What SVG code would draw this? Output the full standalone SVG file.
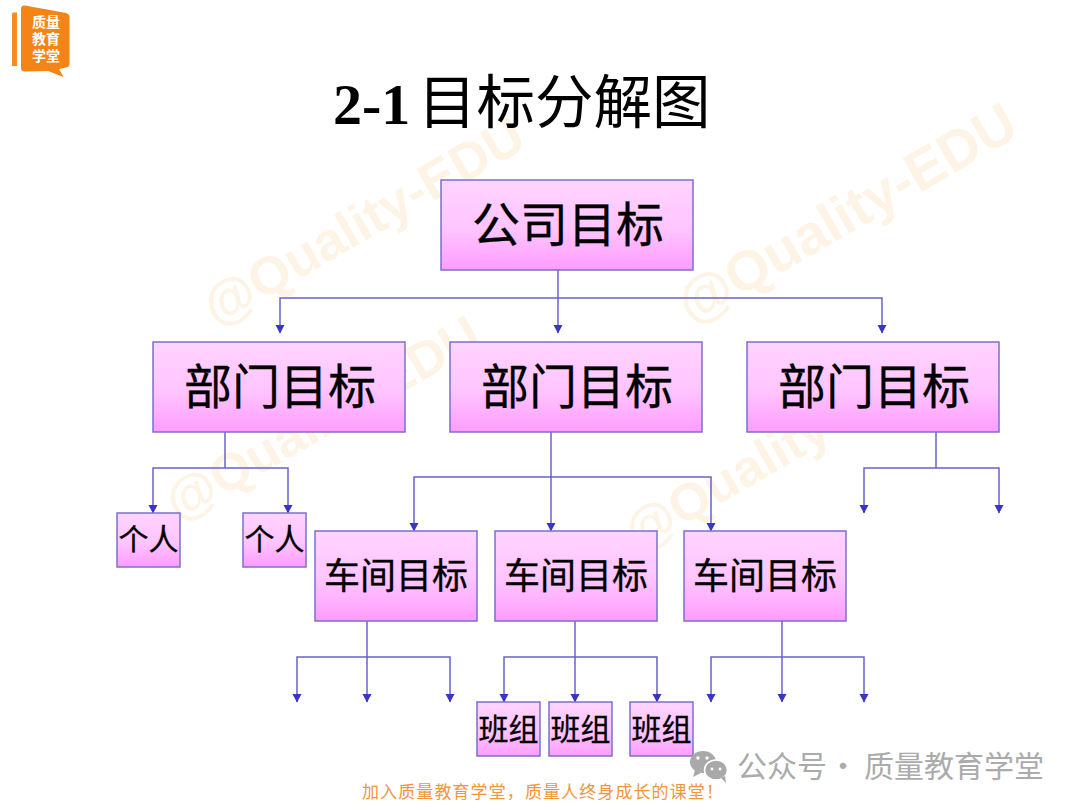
<svg xmlns="http://www.w3.org/2000/svg" width="1080" height="810" viewBox="0 0 1080 810">
<style>
.box{fill:url(#g);stroke:#7a70cc;stroke-width:1.5}
.t{font-family:"Noto Sans CJK SC","Liberation Sans",sans-serif;fill:#000;text-anchor:middle;stroke:#000;stroke-width:0.3}
.l{font-size:48px}.m{font-size:36px}.s{font-size:30px}
.c{fill:none;stroke:#6a62cc;stroke-width:1.5}
.w{font-family:"Liberation Sans",sans-serif;font-weight:bold;fill:#fef4e6}
.lg{font-family:"Liberation Sans","Noto Sans CJK SC",sans-serif;font-weight:700;font-size:14px;fill:#fff;text-anchor:middle}
.wc{font-family:"Noto Sans CJK SC",sans-serif;font-size:30px;fill:#ababab}
</style>
<defs>
<linearGradient id="g" x1="0" y1="0" x2="0" y2="1"><stop offset="0" stop-color="#ffd4ff"/><stop offset="0.55" stop-color="#ffc4ff"/><stop offset="1" stop-color="#ff9cff"/></linearGradient>
<marker id="a" markerUnits="userSpaceOnUse" markerWidth="9" markerHeight="10" refX="8" refY="4.500" orient="auto" viewBox="0 0 9 9"><path d="M0 0L8.500 4.500 0 9Z" fill="#3c34c4"/></marker>
</defs>
<rect width="1080" height="810" fill="#fff"/>
<g id="watermarks">
<text class="w" font-size="53" transform="translate(216 327) rotate(-30)">@Quality-EDU</text>
<text class="w" font-size="56" transform="translate(691 325) rotate(-30)">@Quality-EDU</text>
<text class="w" font-size="52" transform="translate(178 522) rotate(-30)">@Quality-EDU</text>
<text class="w" font-size="52" transform="translate(637 552) rotate(-30)">@Quality-EDU</text>
</g>
<g id="logo">
<path d="M13 12.500H17V66H13Q12 66 12 65V14Q12 13 13 12.500Z" fill="#f58a1f"/>
<path d="M21 9 Q21 5 25 5.500L66 13Q69.500 14 69.500 17V64Q69.500 67 66 67.500L59 69 63.500 77 48 71 25 71.500Q21 71.500 21 68Z" fill="#f58416"/>
<text class="lg" x="46" y="27">质量</text>
<text class="lg" x="46" y="44">教育</text>
<text class="lg" x="46" y="61">学堂</text>
</g>
<g id="title">
<text x="333" y="124" font-family="'Liberation Serif',serif" font-weight="bold" font-size="58" fill="#000">2-1</text>
<text x="418" y="123" font-family="'Noto Sans CJK SC',sans-serif" font-size="58.500" fill="#000">目标分解图</text>
</g>
<g id="connectors">
<path class="c" d="M558 270V298"/>
<path class="c" d="M558 298H280V333" marker-end="url(#a)"/>
<path class="c" d="M558 298V333" marker-end="url(#a)"/>
<path class="c" d="M558 298H882V333" marker-end="url(#a)"/>
<path class="c" d="M225 432V468"/>
<path class="c" d="M225 468H153V513" marker-end="url(#a)"/>
<path class="c" d="M225 468H288V513" marker-end="url(#a)"/>
<path class="c" d="M551 432V477"/>
<path class="c" d="M551 477H414V531" marker-end="url(#a)"/>
<path class="c" d="M551 477V531" marker-end="url(#a)"/>
<path class="c" d="M551 477H711V531" marker-end="url(#a)"/>
<path class="c" d="M936 432V468"/>
<path class="c" d="M936 468H864V513" marker-end="url(#a)"/>
<path class="c" d="M936 468H999V513" marker-end="url(#a)"/>
<path class="c" d="M367 621V657"/>
<path class="c" d="M367 657H297V702" marker-end="url(#a)"/>
<path class="c" d="M367 657V702" marker-end="url(#a)"/>
<path class="c" d="M367 657H450V702" marker-end="url(#a)"/>
<path class="c" d="M575 621V657"/>
<path class="c" d="M575 657H504V702" marker-end="url(#a)"/>
<path class="c" d="M575 657V702" marker-end="url(#a)"/>
<path class="c" d="M575 657H657V702" marker-end="url(#a)"/>
<path class="c" d="M782 621V657"/>
<path class="c" d="M782 657H711V702" marker-end="url(#a)"/>
<path class="c" d="M782 657V702" marker-end="url(#a)"/>
<path class="c" d="M782 657H864V702" marker-end="url(#a)"/>
</g>
<g id="n-company"><rect class="box" x="441" y="180" width="252" height="90"/><text class="t l" x="568" y="242">公司目标</text></g>
<g id="n-dept1"><rect class="box" x="153" y="342" width="252" height="90"/><text class="t l" x="280" y="404">部门目标</text></g>
<g id="n-dept2"><rect class="box" x="450" y="342" width="252" height="90"/><text class="t l" x="577" y="404">部门目标</text></g>
<g id="n-dept3"><rect class="box" x="747" y="342" width="252" height="90"/><text class="t l" x="874" y="404">部门目标</text></g>
<g id="n-person1"><rect class="box" x="117" y="513" width="63" height="54"/><text class="t s" x="148.500" y="550">个人</text></g>
<g id="n-person2"><rect class="box" x="243" y="513" width="63" height="54"/><text class="t s" x="274.500" y="550">个人</text></g>
<g id="n-shop1"><rect class="box" x="315" y="531" width="162" height="90"/><text class="t m" x="396" y="589">车间目标</text></g>
<g id="n-shop2"><rect class="box" x="495" y="531" width="162" height="90"/><text class="t m" x="576" y="589">车间目标</text></g>
<g id="n-shop3"><rect class="box" x="684" y="531" width="162" height="90"/><text class="t m" x="765" y="589">车间目标</text></g>
<g id="n-team1"><rect class="box" x="477" y="702" width="63" height="54"/><text class="t s" x="508.500" y="740">班组</text></g>
<g id="n-team2"><rect class="box" x="549" y="702" width="63" height="54"/><text class="t s" x="580.500" y="740">班组</text></g>
<g id="n-team3"><rect class="box" x="630" y="702" width="63" height="54"/><text class="t s" x="661.500" y="740">班组</text></g>
<g id="wechat">
<ellipse cx="703" cy="762" rx="13" ry="11" fill="#a9a9a9"/>
<path d="M695 770l-2 7 8-4Z" fill="#a9a9a9"/>
<ellipse cx="716" cy="770" rx="11.500" ry="10" fill="#a9a9a9" stroke="#fff" stroke-width="1.500"/>
<path d="M721 778l5 5-1-7Z" fill="#a9a9a9"/>
<circle cx="698" cy="758" r="1.700" fill="#fff"/><circle cx="707" cy="758" r="1.700" fill="#fff"/>
<circle cx="712" cy="769" r="1.400" fill="#fff"/><circle cx="720" cy="769" r="1.400" fill="#fff"/>
<text class="wc" x="737" y="777">公众号</text>
<text class="wc" x="828" y="777">·</text>
<text class="wc" x="864" y="777">质量教育学堂</text>
</g>
<text id="footer" x="543" y="798" font-family="'Noto Sans CJK SC',sans-serif" font-size="17" fill="#f0963c" text-anchor="middle" letter-spacing="1.100">加入质量教育学堂，质量人终身成长的课堂！</text>
</svg>
